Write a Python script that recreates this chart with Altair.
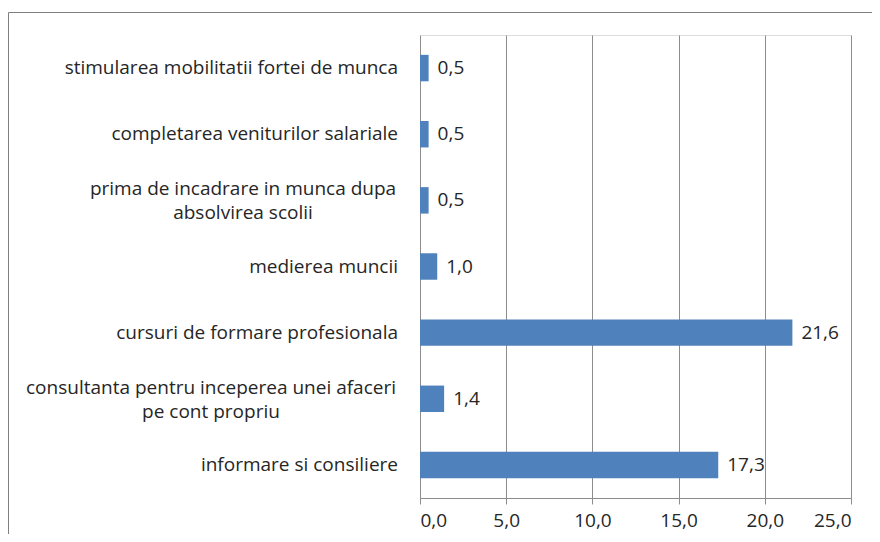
import altair as alt
import pandas as pd

categories = [
    "stimularea mobilitatii fortei de munca",
    "completarea veniturilor salariale",
    "prima de incadrare in munca dupa|absolvirea scolii",
    "medierea muncii",
    "cursuri de formare profesionala",
    "consultanta pentru inceperea unei afaceri|pe cont propriu",
    "informare si consiliere",
]
values = [0.5, 0.5, 0.5, 1.0, 21.6, 1.4, 17.3]

df = pd.DataFrame({"cat": categories, "v": values})

W, H = 431, 463
FONT = "Open Sans"
FS = 19
TXT = "#262626"
GRID = "#8c8c8c"

y_enc = alt.Y(
    "cat:N",
    sort=categories,
    title=None,
    scale=alt.Scale(paddingInner=0.6, paddingOuter=0.3),
    axis=alt.Axis(
        labels=False,
        tickSize=7,
        tickColor=GRID,
        domainColor=GRID,
        tickBand="extent",
        grid=False,
    ),
)

x_enc = alt.X(
    "v:Q",
    title=None,
    scale=alt.Scale(domain=[0, 25], nice=False),
    axis=alt.Axis(
        values=[0, 5, 10, 15, 20, 25],
        labelExpr="replace(format(datum.value, '.1f'), '.', ',')",
        labelFont=FONT,
        labelFontSize=FS,
        labelColor=TXT,
        labelPadding=7,
        tickSize=6,
        tickColor=GRID,
        domainColor=GRID,
        gridColor=GRID,
        gridOpacity=1,
        grid=True,
    ),
)

base = alt.Chart(df).encode(y=y_enc, x=x_enc)

bars = base.mark_bar(color="#4F81BD")

labels = base.transform_calculate(
    lab="replace(format(datum.v, '.1f'), '.', ',')"
).mark_text(
    align="left", baseline="middle", dx=9, font=FONT, fontSize=FS, color=TXT
).encode(text="lab:N")

y_plain = alt.Y("cat:N", sort=categories, axis=None)


def cat_text(filter_expr, align, xpix, dy):
    return alt.Chart(df).transform_filter(filter_expr).mark_text(
        align=align, baseline="middle", font=FONT, fontSize=FS, color=TXT,
        lineBreak="|", lineHeight=24, dy=dy,
    ).encode(y=y_plain, x=alt.value(xpix), text="cat:N")


cat_single = cat_text("indexof(datum.cat, '|') < 0", "right", -22, 0)
cat_prima = cat_text("indexof(datum.cat, 'prima') == 0", "center", -177, -11)
cat_cons = cat_text("indexof(datum.cat, 'consultanta') == 0", "center", -209, -11)

frame = base.transform_filter("datum.v > 21").mark_rect(
    fill=None, stroke="#7f7f7f", strokeWidth=1
).encode(
    x=alt.value(-411.5),
    x2=alt.value(W + 60),
    y=alt.value(-22.5),
    y2=alt.value(H + 80),
)

chart = alt.layer(frame, bars, labels, cat_single, cat_prima, cat_cons).properties(
    width=W,
    height=H,
    autosize=alt.AutoSizeParams(type="none"),
    padding={"left": 412, "top": 27, "right": 21, "bottom": 36},
).configure_view(stroke=None).configure(background="white")

chart.save("out.html", embed_options={"renderer": "svg", "actions": False})
